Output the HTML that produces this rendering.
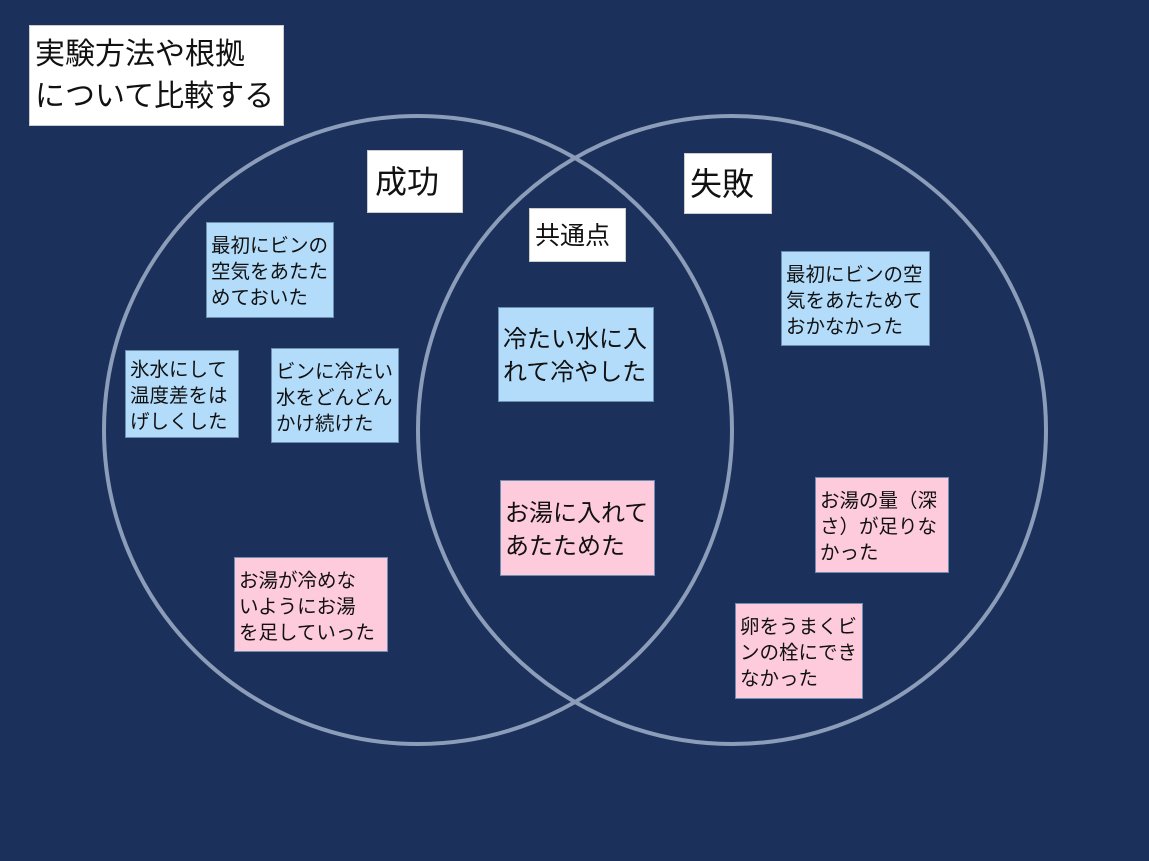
<!DOCTYPE html>
<html><head><meta charset="utf-8"><style>
body{margin:0;width:1149px;height:861px;background:#1b315c;overflow:hidden;position:relative;font-family:"Liberation Sans","Noto Sans CJK JP",sans-serif;color:#111}
.b{position:absolute;box-sizing:border-box;padding:10px 0 0 4px;line-height:26px;font-size:19.5px;white-space:nowrap;border:1px solid #6f8fb0;letter-spacing:0}
.w{background:#fff;border-color:#ccc}
.bl{background:#b3dcfb}
.pk{background:#fdcbdc}
svg{position:absolute;left:0;top:0}
</style></head><body>
<svg width="1149" height="861"><circle cx="418" cy="430" r="314" fill="none" stroke="#8c9db9" stroke-width="4"/><circle cx="732" cy="430" r="314" fill="none" stroke="#8c9db9" stroke-width="4"/></svg>
<div class="b w" style="left:29px;top:25px;width:255px;height:101px;font-size:30px;line-height:42px;padding:8px 0 0 5px">実験方法や根拠<br>について比較する</div>
<div class="b w" style="left:367px;top:150px;width:96px;height:63px;font-size:32px;line-height:63px;padding:0 0 0 7px">成功</div>
<div class="b w" style="left:684px;top:153px;width:88px;height:61px;font-size:32px;line-height:61px;padding:0 0 0 5px">失敗</div>
<div class="b w" style="left:529px;top:208px;width:97px;height:54px;font-size:25px;line-height:54px;padding:0 0 0 5px">共通点</div>
<div class="b bl" style="left:206px;top:222px;width:128px;height:96px">最初にビンの<br>空気をあたた<br>めておいた</div>
<div class="b bl" style="left:125px;top:350px;width:114px;height:88px;padding-top:6px">氷水にして<br>温度差をは<br>げしくした</div>
<div class="b bl" style="left:271px;top:348px;width:128px;height:95px">ビンに冷たい<br>水をどんどん<br>かけ続けた</div>
<div class="b bl" style="left:498px;top:307px;width:156px;height:95px;font-size:24px;line-height:33px;padding-top:15px">冷たい水に入<br>れて冷やした</div>
<div class="b pk" style="left:500px;top:480px;width:155px;height:96px;font-size:24px;line-height:33px;padding-top:16px">お湯に入れて<br>あたためた</div>
<div class="b pk" style="left:234px;top:557px;width:154px;height:95px">お湯が冷めな<br>いようにお湯<br>を足していった</div>
<div class="b bl" style="left:781px;top:251px;width:149px;height:95px">最初にビンの空<br>気をあたためて<br>おかなかった</div>
<div class="b pk" style="left:815px;top:477px;width:134px;height:96px">お湯の量（深<br>さ）が足りな<br>かった</div>
<div class="b pk" style="left:735px;top:603px;width:128px;height:96px">卵をうまくビ<br>ンの栓にでき<br>なかった</div>
</body></html>
